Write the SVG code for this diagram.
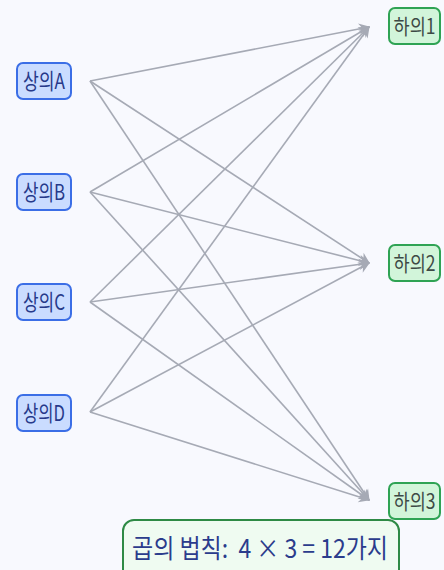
<svg xmlns="http://www.w3.org/2000/svg" width="444" height="570" viewBox="0 0 444 570">
<defs>
<style>
.top rect{fill:#cadcff;stroke:#3b6ee6;stroke-width:2}
.top text{fill:#26398a;font-family:"Noto Sans CJK KR","Noto Sans",sans-serif;font-size:22px;text-anchor:middle}
.bot rect{fill:#d2f5da;stroke:#2fa354;stroke-width:2}
.bot text{fill:#3d4a45;font-family:"Noto Sans CJK KR","Noto Sans",sans-serif;font-size:21px;text-anchor:middle}
.edges line{stroke:#a6aab5;stroke-width:1.6;marker-end:url(#arr)}
</style>
<marker id="arr" viewBox="0 0 10 10" refX="9" refY="5" markerWidth="7" markerHeight="7" orient="auto" markerUnits="userSpaceOnUse" overflow="visible">
<path d="M0,0 L10,5 L0,10 L3,5 Z" fill="#a6aab5" transform="scale(1.6)" transform-origin="9 5"/>
</marker>
</defs>
<rect width="444" height="570" fill="#f8f9fe"/>
<g class="edges">
<line x1="90" y1="81" x2="369" y2="27"/>
<line x1="90" y1="81" x2="369" y2="263"/>
<line x1="90" y1="81" x2="369" y2="500"/>
<line x1="90" y1="192" x2="369" y2="27"/>
<line x1="90" y1="192" x2="369" y2="263"/>
<line x1="90" y1="192" x2="369" y2="500"/>
<line x1="90" y1="302" x2="369" y2="27"/>
<line x1="90" y1="302" x2="369" y2="263"/>
<line x1="90" y1="302" x2="369" y2="500"/>
<line x1="90" y1="412" x2="369" y2="27"/>
<line x1="90" y1="412" x2="369" y2="263"/>
<line x1="90" y1="412" x2="369" y2="500"/>
</g>
<g id="topA" class="top"><rect x="17" y="63" width="54" height="36" rx="6"/><text x="44" y="89" textLength="42" lengthAdjust="spacingAndGlyphs">상의A</text></g>
<g id="topB" class="top"><rect x="17" y="174" width="54" height="36" rx="6"/><text x="44" y="200" textLength="42" lengthAdjust="spacingAndGlyphs">상의B</text></g>
<g id="topC" class="top"><rect x="17" y="284" width="54" height="36" rx="6"/><text x="44" y="310" textLength="42" lengthAdjust="spacingAndGlyphs">상의C</text></g>
<g id="topD" class="top"><rect x="17" y="395" width="54" height="36" rx="6"/><text x="44" y="421" textLength="42" lengthAdjust="spacingAndGlyphs">상의D</text></g>
<g id="bot1" class="bot"><rect x="389" y="8" width="51" height="36" rx="6"/><text x="414.5" y="34" textLength="42" lengthAdjust="spacingAndGlyphs">하의1</text></g>
<g id="bot2" class="bot"><rect x="389" y="245" width="51" height="36" rx="6"/><text x="414.5" y="271" textLength="42" lengthAdjust="spacingAndGlyphs">하의2</text></g>
<g id="bot3" class="bot"><rect x="389" y="483" width="51" height="36" rx="6"/><text x="414.5" y="509" textLength="42" lengthAdjust="spacingAndGlyphs">하의3</text></g>
<g id="rule"><rect x="123" y="520" width="276" height="64" rx="11" fill="#effbf1" stroke="#2e8a45" stroke-width="2"/><text x="260" y="558" font-family="'Noto Sans CJK KR','Noto Sans',sans-serif" font-size="26" fill="#2b3c8c" text-anchor="middle" textLength="256" lengthAdjust="spacingAndGlyphs" xml:space="preserve">곱의 법칙:  4 × 3 = 12가지</text></g>
</svg>
